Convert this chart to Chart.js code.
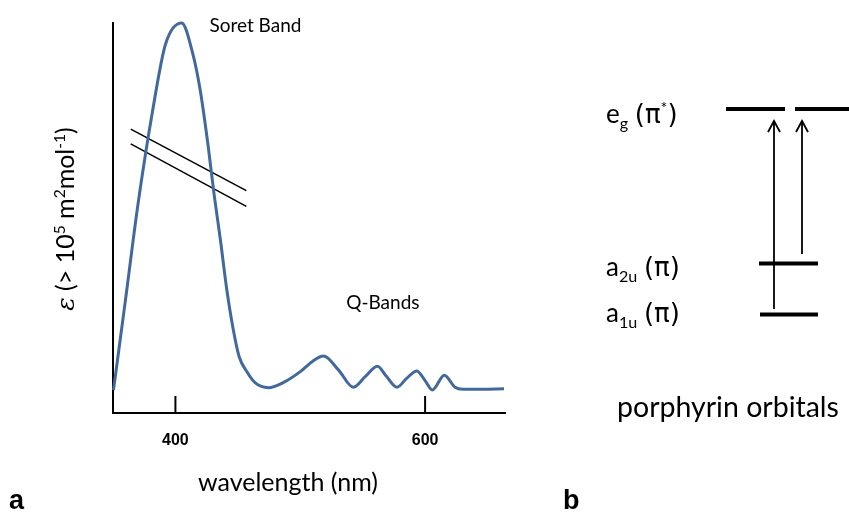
<!DOCTYPE html>
<html><head><meta charset="utf-8">
<script src="https://cdn.jsdelivr.net/npm/chart.js@4.4.1/dist/chart.umd.min.js"></script>
<style>html,body{margin:0;padding:0;background:#fff}</style>
</head><body>
<canvas id="c" width="849" height="514"></canvas>
<script>
// ---- data ----
const wavelengths = [350.4, 360.0, 370.0, 382.0, 392.0, 405.0, 414.0, 420.0, 426.2, 431.0, 436.0, 441.0, 446.0, 451.0, 457.4, 464.0, 474.4, 487.0, 500.0, 510.0, 518.6, 530.7, 542.6, 552.0, 561.8, 569.0, 577.4, 585.0, 593.4, 600.0, 605.8, 615.4, 624.0, 630.4, 645.0, 663.2];
const absorbance  = [5.9, 29.0, 53.5, 78.0, 94.5, 100.0, 92.0, 82.5, 68.5, 56.0, 44.5, 32.0, 22.0, 14.5, 10.5, 7.7, 6.5, 7.9, 10.6, 13.3, 14.6, 11.0, 6.6, 9.3, 12.0, 9.4, 6.6, 8.8, 10.8, 8.3, 5.9, 9.7, 6.6, 6.1, 6.1, 6.2];
const tickValues = [400, 600];
const xRange = [350, 664];
const yRange = [0, 100];
// axis-break marks in data units: [x1, y1, x2, y2]
const breakMarks = [[364.2, 72.8, 456.8, 57.0], [364.2, 69.0, 456.8, 53.0]];
// free text labels anchored in data units (left x, baseline y)
const bandLabels = [{text: 'Soret Band', x: 427.2, y: 97.6}, {text: 'Q-Bands', x: 536.8, y: 26.7}];

const FONT = 'Lato, "Open Sans", sans-serif';
const SYM = '"DejaVu Sans", sans-serif';

function segWidth(ctx, segs, size) {
  let w = 0;
  for (const s of segs) {
    const fs = (s.sub || s.sup) ? size * 0.62 : size;
    ctx.font = (s.style || '') + ' ' + fs + 'px ' + (s.family || FONT);
    w += ctx.measureText(s.t).width;
  }
  return w;
}
function drawRich(ctx, x, y, segs, size) {
  let cx = x;
  for (const s of segs) {
    let fs = size, dy = 0;
    if (s.sub) { fs = size * 0.62; dy = size * 0.22; }
    if (s.sup) { fs = size * 0.62; dy = -size * 0.38; }
    ctx.font = (s.style || '') + ' ' + fs + 'px ' + (s.family || FONT);
    ctx.fillText(s.t, cx, y + dy);
    cx += ctx.measureText(s.t).width;
  }
  return cx - x;
}

const annot = {
  id: 'annot',
  beforeDatasetsDraw(chart) {
    const ctx = chart.ctx, xs = chart.scales.x, ys = chart.scales.y;
    ctx.save();
    ctx.strokeStyle = '#000';
    ctx.lineWidth = 1.5;
    for (const m of breakMarks) {
      ctx.beginPath();
      ctx.moveTo(xs.getPixelForValue(m[0]), ys.getPixelForValue(m[1]));
      ctx.lineTo(xs.getPixelForValue(m[2]), ys.getPixelForValue(m[3]));
      ctx.stroke();
    }
    ctx.restore();
  },
  afterDraw(chart) {
    const ctx = chart.ctx, xs = chart.scales.x, ys = chart.scales.y, ca = chart.chartArea;
    ctx.save();
    // inward tick marks + tick labels
    ctx.strokeStyle = '#000'; ctx.lineWidth = 2;
    ctx.fillStyle = '#000';
    ctx.font = 'bold 16px "Liberation Sans", Arial, sans-serif';
    ctx.textAlign = 'center';
    ctx.textBaseline = 'middle';
    for (const t of tickValues) {
      const px = xs.getPixelForValue(t);
      ctx.beginPath(); ctx.moveTo(px, ca.bottom); ctx.lineTo(px, ca.bottom - 17); ctx.stroke();
      ctx.fillText(String(t), px, ca.bottom + 28);
    }
    ctx.textBaseline = 'alphabetic';
    // band labels
    ctx.textAlign = 'left';
    ctx.font = '19px ' + FONT;
    for (const b of bandLabels) {
      ctx.fillText(b.text, xs.getPixelForValue(b.x), ys.getPixelForValue(b.y));
    }
    // x title
    ctx.font = '25px ' + FONT;
    ctx.textAlign = 'center';
    ctx.fillText('wavelength (nm)', 288, 491);
    // y title (rotated)
    ctx.save();
    ctx.translate(74, 219);
    ctx.rotate(-Math.PI / 2);
    ctx.textAlign = 'left';
    const ySegs = [{t: 'ε', style: 'italic', family: '"DejaVu Serif", serif'}, {t: ' (> 10'}, {t: '5', sup: true}, {t: ' m'}, {t: '2', sup: true}, {t: 'mol'}, {t: '-1', sup: true}, {t: ')'}];
    const w = segWidth(ctx, ySegs, 25);
    drawRich(ctx, -w / 2, 0, ySegs, 25);
    ctx.restore();
    // panel letters
    ctx.textAlign = 'left';
    ctx.font = 'bold 27px "Liberation Sans", Arial, sans-serif';
    ctx.fillText('a', 9, 509);
    ctx.fillText('b', 563, 509);

    // ---- panel b: porphyrin orbital diagram ----
    ctx.strokeStyle = '#000';
    ctx.lineWidth = 4;
    const bars = [[726, 785, 109], [795, 849, 109], [759, 818, 263.5], [760, 818, 314.5]];
    for (const b of bars) { ctx.beginPath(); ctx.moveTo(b[0], b[2]); ctx.lineTo(b[1], b[2]); ctx.stroke(); }
    ctx.lineWidth = 1.8;
    const arrows = [[774, 309, 121], [802, 254, 121]];
    for (const a of arrows) {
      ctx.beginPath(); ctx.moveTo(a[0], a[1]); ctx.lineTo(a[0], a[2] + 1); ctx.stroke();
      ctx.beginPath(); ctx.moveTo(a[0] - 6, a[2] + 11); ctx.lineTo(a[0], a[2]); ctx.lineTo(a[0] + 6, a[2] + 11); ctx.stroke();
    }
    ctx.fillStyle = '#000';
    drawRich(ctx, 606, 123, [{t: 'e'}, {t: 'g', sub: true}, {t: ' '}, {t: '(π', family: SYM}, {t: '*', sup: true}, {t: ')', family: SYM}], 26);
    drawRich(ctx, 606, 276, [{t: 'a'}, {t: '2u', sub: true}, {t: ' '}, {t: '(π)', family: SYM}], 26);
    drawRich(ctx, 606, 322, [{t: 'a'}, {t: '1u', sub: true}, {t: ' '}, {t: '(π)', family: SYM}], 26);
    ctx.font = '28.5px ' + FONT;
    ctx.fillText('porphyrin orbitals', 617, 417);
    ctx.restore();
  }
};

new Chart(document.getElementById('c'), {
  type: 'line',
  data: {
    datasets: [{
      data: wavelengths.map((w, i) => ({x: w, y: absorbance[i]})),
      borderColor: '#41699C',
      borderWidth: 3,
      pointRadius: 0,
      fill: false,
      clip: 6,
      cubicInterpolationMode: 'monotone'
    }]
  },
  options: {
    responsive: false,
    animation: false,
    devicePixelRatio: 1,
    layout: {padding: {left: 113, top: 23, right: 344, bottom: 101}},
    plugins: {legend: {display: false}, tooltip: {enabled: false}},
    scales: {
      x: {
        type: 'linear', min: xRange[0], max: xRange[1],
        afterFit(s) { s.height = 0; },
        afterBuildTicks(s) { s.ticks = tickValues.map(v => ({value: v})); },
        grid: {display: false, drawTicks: false},
        border: {display: true, color: '#000', width: 2},
        ticks: {display: false}
      },
      y: {
        min: yRange[0], max: yRange[1],
        afterFit(s) { s.width = 0; },
        grid: {display: false, drawTicks: false},
        border: {display: true, color: '#000', width: 2},
        ticks: {display: false}
      }
    }
  },
  plugins: [annot]
});
</script>
</body></html>
